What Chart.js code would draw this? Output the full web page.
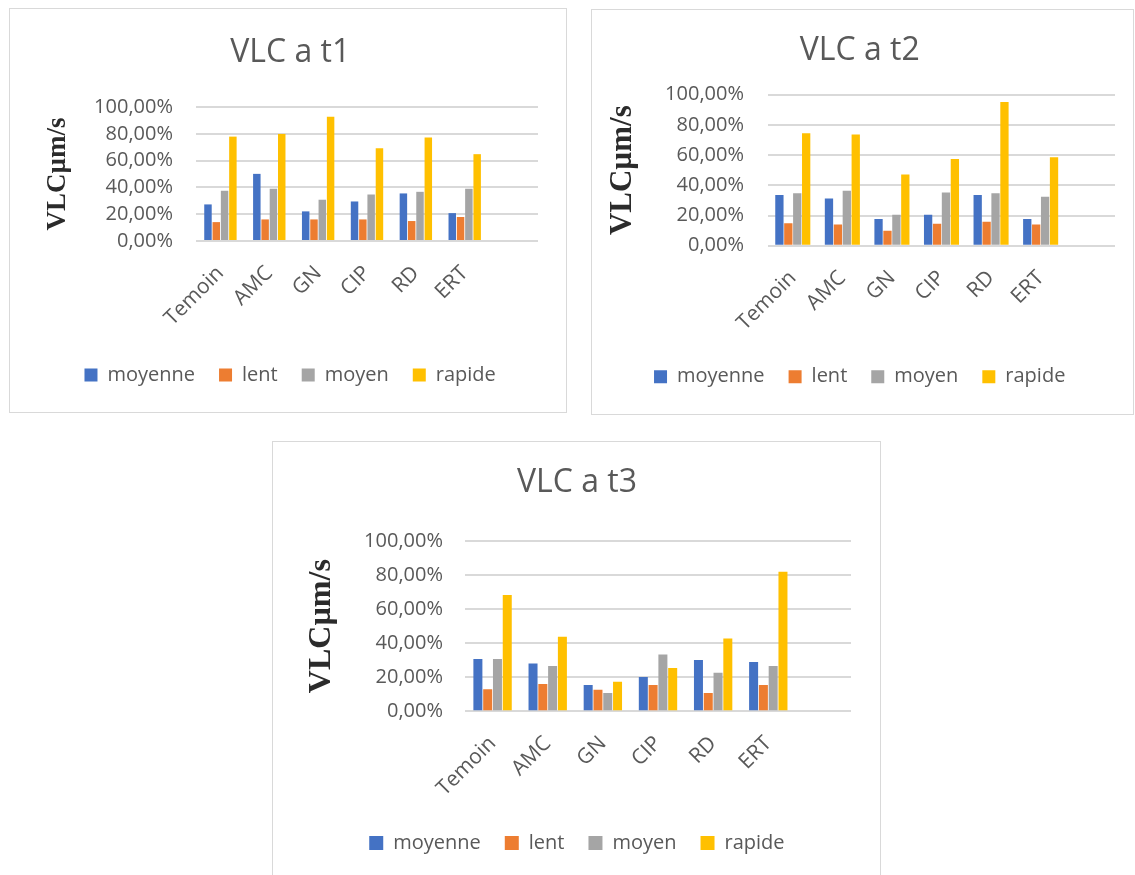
<!DOCTYPE html>
<html>
<head>
<meta charset="utf-8">
<script src="https://cdn.jsdelivr.net/npm/chart.js@4/dist/chart.umd.min.js"></script>
<style>
  html, body { margin: 0; padding: 0; background: #fff; width: 1135px; height: 875px; overflow: hidden; }
  .box { position: absolute; box-sizing: border-box; border: 1px solid #d9d9d9; background: #fff; }
  .box canvas { position: absolute; left: 0; top: 0; }
</style>
</head>
<body>
<div class="box" style="left:9px;top:8px;width:558px;height:405px"><canvas id="c1" width="556" height="403"></canvas></div>
<div class="box" style="left:591px;top:9px;width:543px;height:406px"><canvas id="c2" width="541" height="404"></canvas></div>
<div class="box" style="left:272px;top:441px;width:609px;height:436px"><canvas id="c3" width="607" height="434"></canvas></div>
<script>
// Groups on the x axis
const categories = ['Temoin', 'AMC', 'GN', 'CIP', 'RD', 'ERT'];
const seriesNames = ['moyenne', 'lent', 'moyen', 'rapide'];
const seriesColors = ['#4472C4', '#ED7D31', '#A5A5A5', '#FFC000'];
const yTicks = [0, 20, 40, 60, 80, 100];
const axisTitle = 'VLCµm/s';

// VLC at t1 (percent)
const t1Moyenne = [27.3, 50.1, 22.1, 29.5, 35.5, 20.8];
const t1Lent    = [14.1, 16.1, 16.1, 16.1, 14.9, 17.9];
const t1Moyen   = [37.5, 39.0, 30.8, 34.7, 36.7, 39.0];
const t1Rapide  = [77.9, 79.9, 92.8, 69.2, 77.2, 64.8];

// VLC at t2 (percent)
const t2Moyenne = [33.6, 31.3, 17.7, 20.5, 33.6, 17.7];
const t2Lent    = [14.8, 14.1, 9.9, 14.6, 15.9, 14.1];
const t2Moyen   = [34.7, 36.4, 20.5, 35.3, 34.7, 32.5];
const t2Rapide  = [74.4, 73.7, 47.2, 57.4, 95.1, 58.5];

// VLC at t3 (percent)
const t3Moyenne = [30.7, 28.0, 15.5, 20.2, 30.1, 29.0];
const t3Lent    = [12.9, 16.0, 12.7, 15.5, 10.8, 15.5];
const t3Moyen   = [30.7, 26.6, 10.8, 33.3, 22.7, 26.6];
const t3Rapide  = [68.3, 43.8, 17.4, 25.4, 42.7, 82.0];

Chart.defaults.font.family = "'Open Sans', 'Noto Sans', sans-serif";
Chart.defaults.color = '#595959';

const fmtPct = v => v.toFixed(2).replace('.', ',') + '%';

function makeChart(id, title, series, L) {
  const ctx = document.getElementById(id);
  new Chart(ctx, {
    type: 'bar',
    data: {
      // trailing empty slot keeps the spare space at the right of the plot
      labels: [...categories, ''],
      datasets: series.map((vals, i) => ({
        label: seriesNames[i],
        data: vals,
        backgroundColor: seriesColors[i],
        borderWidth: 0,
        categoryPercentage: L.cp,
        barPercentage: L.bp
      }))
    },
    options: {
      responsive: false,
      animation: false,
      devicePixelRatio: 1,
      layout: { padding: { left: L.pl, right: L.pr, top: 0, bottom: L.pb } },
      plugins: {
        title: {
          display: true,
          text: title,
          color: '#595959',
          font: { size: 32, weight: 'normal' },
          padding: { top: L.tp, bottom: L.tb }
        },
        legend: {
          position: 'bottom',
          labels: {
            boxWidth: L.box, boxHeight: L.box,
            padding: 24,
            color: '#595959',
            font: { size: 20 }
          }
        },
        tooltip: { enabled: false }
      },
      scales: {
        x: {
          grid: { display: false, drawTicks: false },
          border: { display: false },
          ticks: {
            autoSkip: false, minRotation: 45, maxRotation: 45,
            padding: 20, color: '#595959', font: { size: 21 }
          },
          afterFit: s => { s.height = L.xh; }
        },
        y: {
          min: 0, max: 100,
          afterBuildTicks: s => { s.ticks = yTicks.map(v => ({ value: v })); },
          grid: { color: '#d9d9d9', lineWidth: 2, drawTicks: false },
          border: { display: false },
          ticks: { autoSkip: false, padding: L.tpad, color: '#595959', font: { size: 20 }, callback: v => fmtPct(v) },
          title: {
            display: true, text: axisTitle, color: '#2b2b2b',
            font: { family: "'Liberation Serif', 'DejaVu Serif', serif", size: L.ys, weight: 'bold' },
            padding: { top: 0, bottom: 0 }
          },
          afterFit: s => { s.width = L.yw; }
        }
      }
    }
  });
}

makeChart('c1', 'VLC a t1', [t1Moyenne, t1Lent, t1Moyen, t1Rapide],
  { pl: 32.3, pr: 28, pb: 17, tp: 24.3, tb: 35.3, yw: 153.7, xh: 100, tpad: 23, ys: 27, cp: 0.68, bp: 0.9, box: 13 });
makeChart('c2', 'VLC a t2', [t2Moyenne, t2Lent, t2Moyen, t2Rapide],
  { pl: 12.4, pr: 18, pb: 17.3, tp: 21.8, tb: 24.5, yw: 163.6, xh: 97, tpad: 24, ys: 31, cp: 0.72, bp: 0.93, box: 13 });
makeChart('c3', 'VLC a t3', [t3Moyenne, t3Lent, t3Moyen, t3Rapide],
  { pl: 29.8, pr: 29, pb: 13, tp: 21.3, tb: 39.3, yw: 162.2, xh: 97.7, tpad: 22, ys: 32, cp: 0.71, bp: 0.92, box: 14 });
</script>
</body>
</html>
